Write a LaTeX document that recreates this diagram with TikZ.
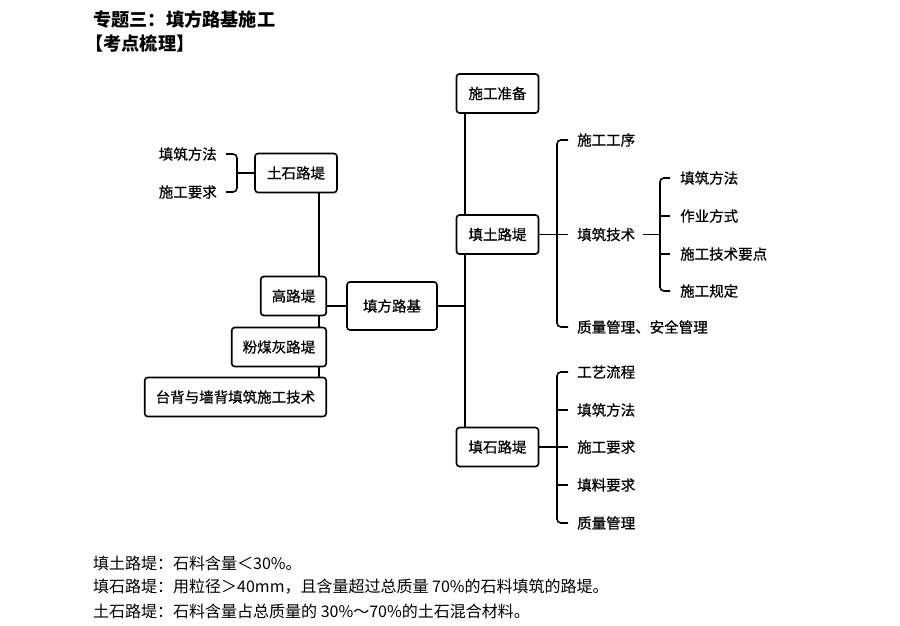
\documentclass[tikz,border=0pt]{standalone}
\usepackage{fontspec}
\setmainfont{Noto Sans CJK SC}
\newfontfamily\diagfont[FakeBold=0.6]{Noto Sans CJK SC}
\usetikzlibrary{positioning}
\tikzset{
  box/.style={draw,line width=1.6pt,rounded corners=3pt,fill=white,
    minimum height=39pt,inner xsep=11pt,font=\diagfont\fontsize{14.5}{16}\selectfont},
  leaf/.style={inner sep=0pt,font=\diagfont\fontsize{14.5}{16}\selectfont},
  link/.style={line width=1.6pt},
  hook/.style={line width=1.6pt,rounded corners=4pt},
  note/.style={anchor=west,inner sep=0pt,font=\fontsize{16}{18}\selectfont},
}
\begin{document}
\begin{tikzpicture}[x=1pt,y=-1pt]
  \useasboundingbox (0,0) rectangle (900,626);
  % heading
  \node (title) at (93,20) [anchor=west,inner sep=0pt,font=\fontsize{18.2}{20}\selectfont\bfseries] {专题三：填方路基施工};
  \node (points) at (85,44) [anchor=west,inner sep=0pt,font=\fontsize{18.2}{20}\selectfont\bfseries] {【考点梳理】};
  % boxes
  \node (root) at (392,306) [box,minimum width=90pt,minimum height=48pt] {填方路基};
  \node (prep) at (497.5,93.5) [box,minimum width=82pt] {施工准备};
  \node (soil) at (497.5,234.5) [box,minimum width=82pt] {填土路堤};
  \node (rock) at (497.5,447) [box,minimum width=82pt] {填石路堤};
  \node (mix) at (296,173) [box,minimum width=82pt] {土石路堤};
  \node (high) at (327,296) [box,anchor=east] {高路堤};
  \node (ash) at (327,347) [box,anchor=east] {粉煤灰路堤};
  \node (back) at (327,397) [box,anchor=east] {台背与墙背填筑施工技术};
  % leaves of 土石路堤
  \node (mixA) at (217,154) [leaf,anchor=east] {填筑方法};
  \node (mixB) at (217,192) [leaf,anchor=east] {施工要求};
  % leaves of 填土路堤
  \node (soilA) at (577,140) [leaf,anchor=west] {施工工序};
  \node (soilB) at (577,234.5) [leaf,anchor=west] {填筑技术};
  \node (soilC) at (577,327) [leaf,anchor=west] {质量管理、安全管理};
  \node (techA) at (680,178) [leaf,anchor=west] {填筑方法};
  \node (techB) at (680,216) [leaf,anchor=west] {作业方式};
  \node (techC) at (680,254) [leaf,anchor=west] {施工技术要点};
  \node (techD) at (680,291) [leaf,anchor=west] {施工规定};
  % leaves of 填石路堤
  \node (rockA) at (577,372) [leaf,anchor=west] {工艺流程};
  \node (rockB) at (577,410) [leaf,anchor=west] {填筑方法};
  \node (rockC) at (577,447) [leaf,anchor=west] {施工要求};
  \node (rockD) at (577,485) [leaf,anchor=west] {填料要求};
  \node (rockE) at (577,523) [leaf,anchor=west] {质量管理};
  % spines
  \coordinate (lspine) at (319,0);
  \coordinate (rspine) at (465,0);
  \coordinate (lbr) at (237,173);
  \coordinate (sbr) at (557,234.5);
  \coordinate (tbr) at (660,234.5);
  \coordinate (rbr) at (557,447);
  \draw [link] (mix.south -| lspine) -- (high.north -| lspine);
  \draw [link] (high.south -| lspine) -- (ash.north -| lspine);
  \draw [link] (ash.south -| lspine) -- (back.north -| lspine);
  \draw [link] (root.west) -- (root.west -| high.east);
  \draw [link] (prep.south -| rspine) -- (soil.north -| rspine);
  \draw [link] (soil.south -| rspine) -- (rock.north -| rspine);
  \draw [link] (root.east) -- (root.east -| rspine);
  % brackets
  \draw [link] (mix.west) -- (lbr);
  \draw [hook] ([xshift=9pt]mixA.east) -| (lbr) |- ([xshift=9pt]mixB.east);
  \draw [link] (soil.east) -- ([xshift=-9pt]soilB.west);
  \draw [hook] ([xshift=-9pt]soilA.west) -| (sbr) |- ([xshift=-9pt]soilC.west);
  \draw [link] ([xshift=8pt]soilB.east) -- (tbr);
  \draw [hook] ([xshift=-10pt]techA.west) -| (tbr) |- ([xshift=-10pt]techD.west);
  \draw [link] (techB.west -| tbr) -- ([xshift=-10pt]techB.west);
  \draw [link] (techC.west -| tbr) -- ([xshift=-10pt]techC.west);
  \draw [link] (rock.east) -- ([xshift=-9pt]rockC.west);
  \draw [hook] ([xshift=-9pt]rockA.west) -| (rbr) |- ([xshift=-9pt]rockE.west);
  \draw [link] (rockB.west -| rbr) -- ([xshift=-9pt]rockB.west);
  \draw [link] (rockD.west -| rbr) -- ([xshift=-9pt]rockD.west);
  % notes
  \node (noteA) at (93,563) [note] {填土路堤：石料含量＜30\%。};
  \node (noteB) at (93,587) [note] {填石路堤：用粒径＞40mm，且含量超过总质量 70\%的石料填筑的路堤。};
  \node (noteC) at (93,611) [note] {土石路堤：石料含量占总质量的 30\%～70\%的土石混合材料。};
\end{tikzpicture}
\end{document}
